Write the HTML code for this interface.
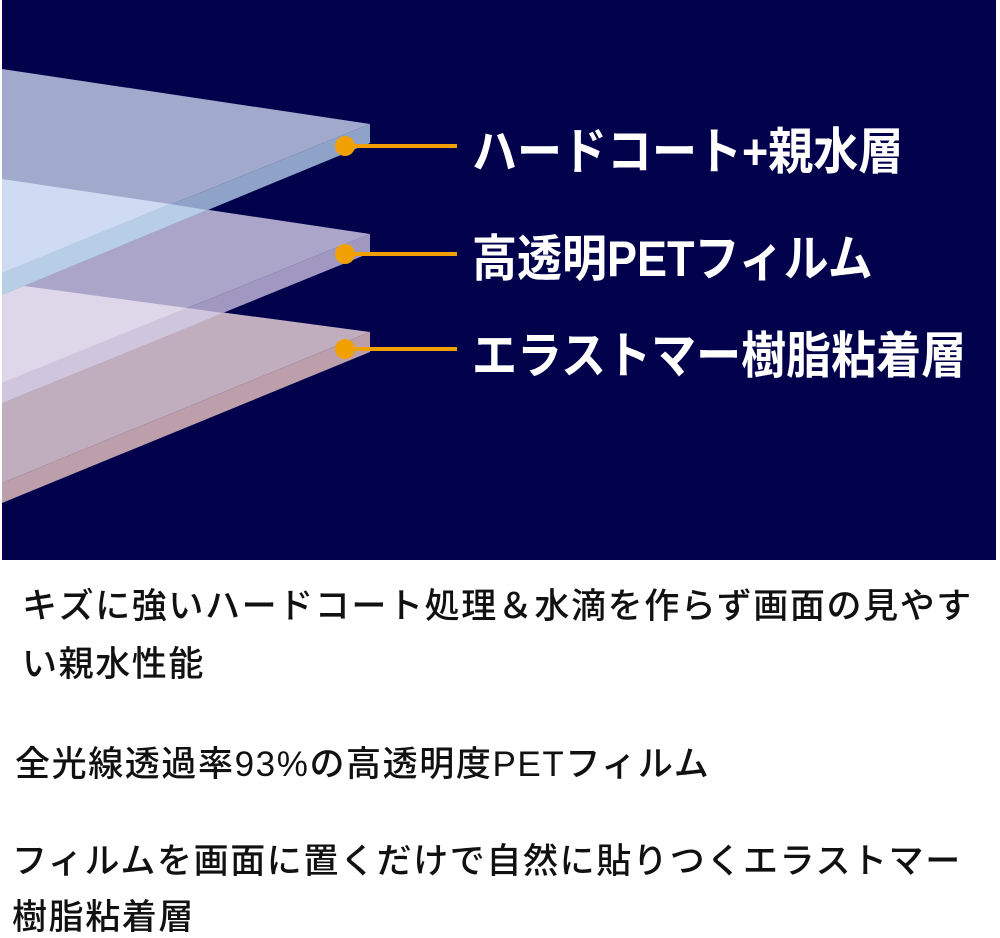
<!DOCTYPE html>
<html><head><meta charset="utf-8"><style>
html,body{margin:0;padding:0;background:#fff;}
body{width:1000px;height:936px;position:relative;overflow:hidden;}
.lbl{position:absolute;left:472px;color:#fff;font-family:"Liberation Sans","Noto Sans CJK JP",sans-serif;font-weight:bold;font-size:50px;line-height:54px;white-space:nowrap;transform:scaleX(0.9);transform-origin:0 50%;}
.t{position:absolute;color:#111;font-family:"Liberation Sans","Noto Sans CJK JP",sans-serif;font-weight:500;font-size:35px;line-height:40px;letter-spacing:1.6px;white-space:nowrap;}
</style></head><body>
<svg width="1000" height="560" style="position:absolute;left:0;top:0">
<rect x="0" y="0" width="996" height="560" fill="#02024c"/>
<rect x="0" y="0" width="2" height="560" fill="#fff"/>
<polygon points="2,283 370,332 2,483" fill="#c0adbe"/>
<polygon points="370,332 370,352 2,503 2,483" fill="#bc9fab"/>
<polygon points="2,179 370,234 2,383" fill="#aba5c9"/>
<polygon points="370,234 370,253 2,403 2,383" fill="#a198c2"/>
<polygon points="2,283 187,308 2,383" fill="#ddd7e9"/>
<polygon points="187,308 223,313 2,403 2,383" fill="#cfc6dd"/>
<polygon points="2,69 370,124 2,273" fill="#a1aacd"/>
<polygon points="370,124 370,143 2,295 2,273" fill="#8fa3c9"/>
<polygon points="2,179 170,204 2,273" fill="#cfdbf2"/>
<polygon points="170,204 207,210 2,295 2,273" fill="#b8cde6"/>
<g fill="#f0a000" stroke="#f0a000">
<circle cx="345" cy="146" r="10" stroke="none"/>
<circle cx="345" cy="254" r="10" stroke="none"/>
<circle cx="345" cy="349" r="10" stroke="none"/>
<line x1="345" y1="146" x2="457" y2="146" stroke-width="4"/>
<line x1="345" y1="254" x2="457" y2="254" stroke-width="4"/>
<line x1="345" y1="349" x2="457" y2="349" stroke-width="4"/>
</g>
</svg>
<div class="lbl" style="top:125px">ハードコート+親水層</div>
<div class="lbl" style="top:232px">高透明PETフィルム</div>
<div class="lbl" style="top:329px">エラストマー樹脂粘着層</div>
<div class="t" style="left:22px;top:587px">キズに強いハードコート処理＆水滴を作らず画面の見やす</div>
<div class="t" style="left:22px;top:645px">い親水性能</div>
<div class="t" style="left:15px;top:745px">全光線透過率93%の高透明度PETフィルム</div>
<div class="t" style="left:12px;top:842px">フィルムを画面に置くだけで自然に貼りつくエラストマー</div>
<div class="t" style="left:12px;top:898px">樹脂粘着層</div>
</body></html>
